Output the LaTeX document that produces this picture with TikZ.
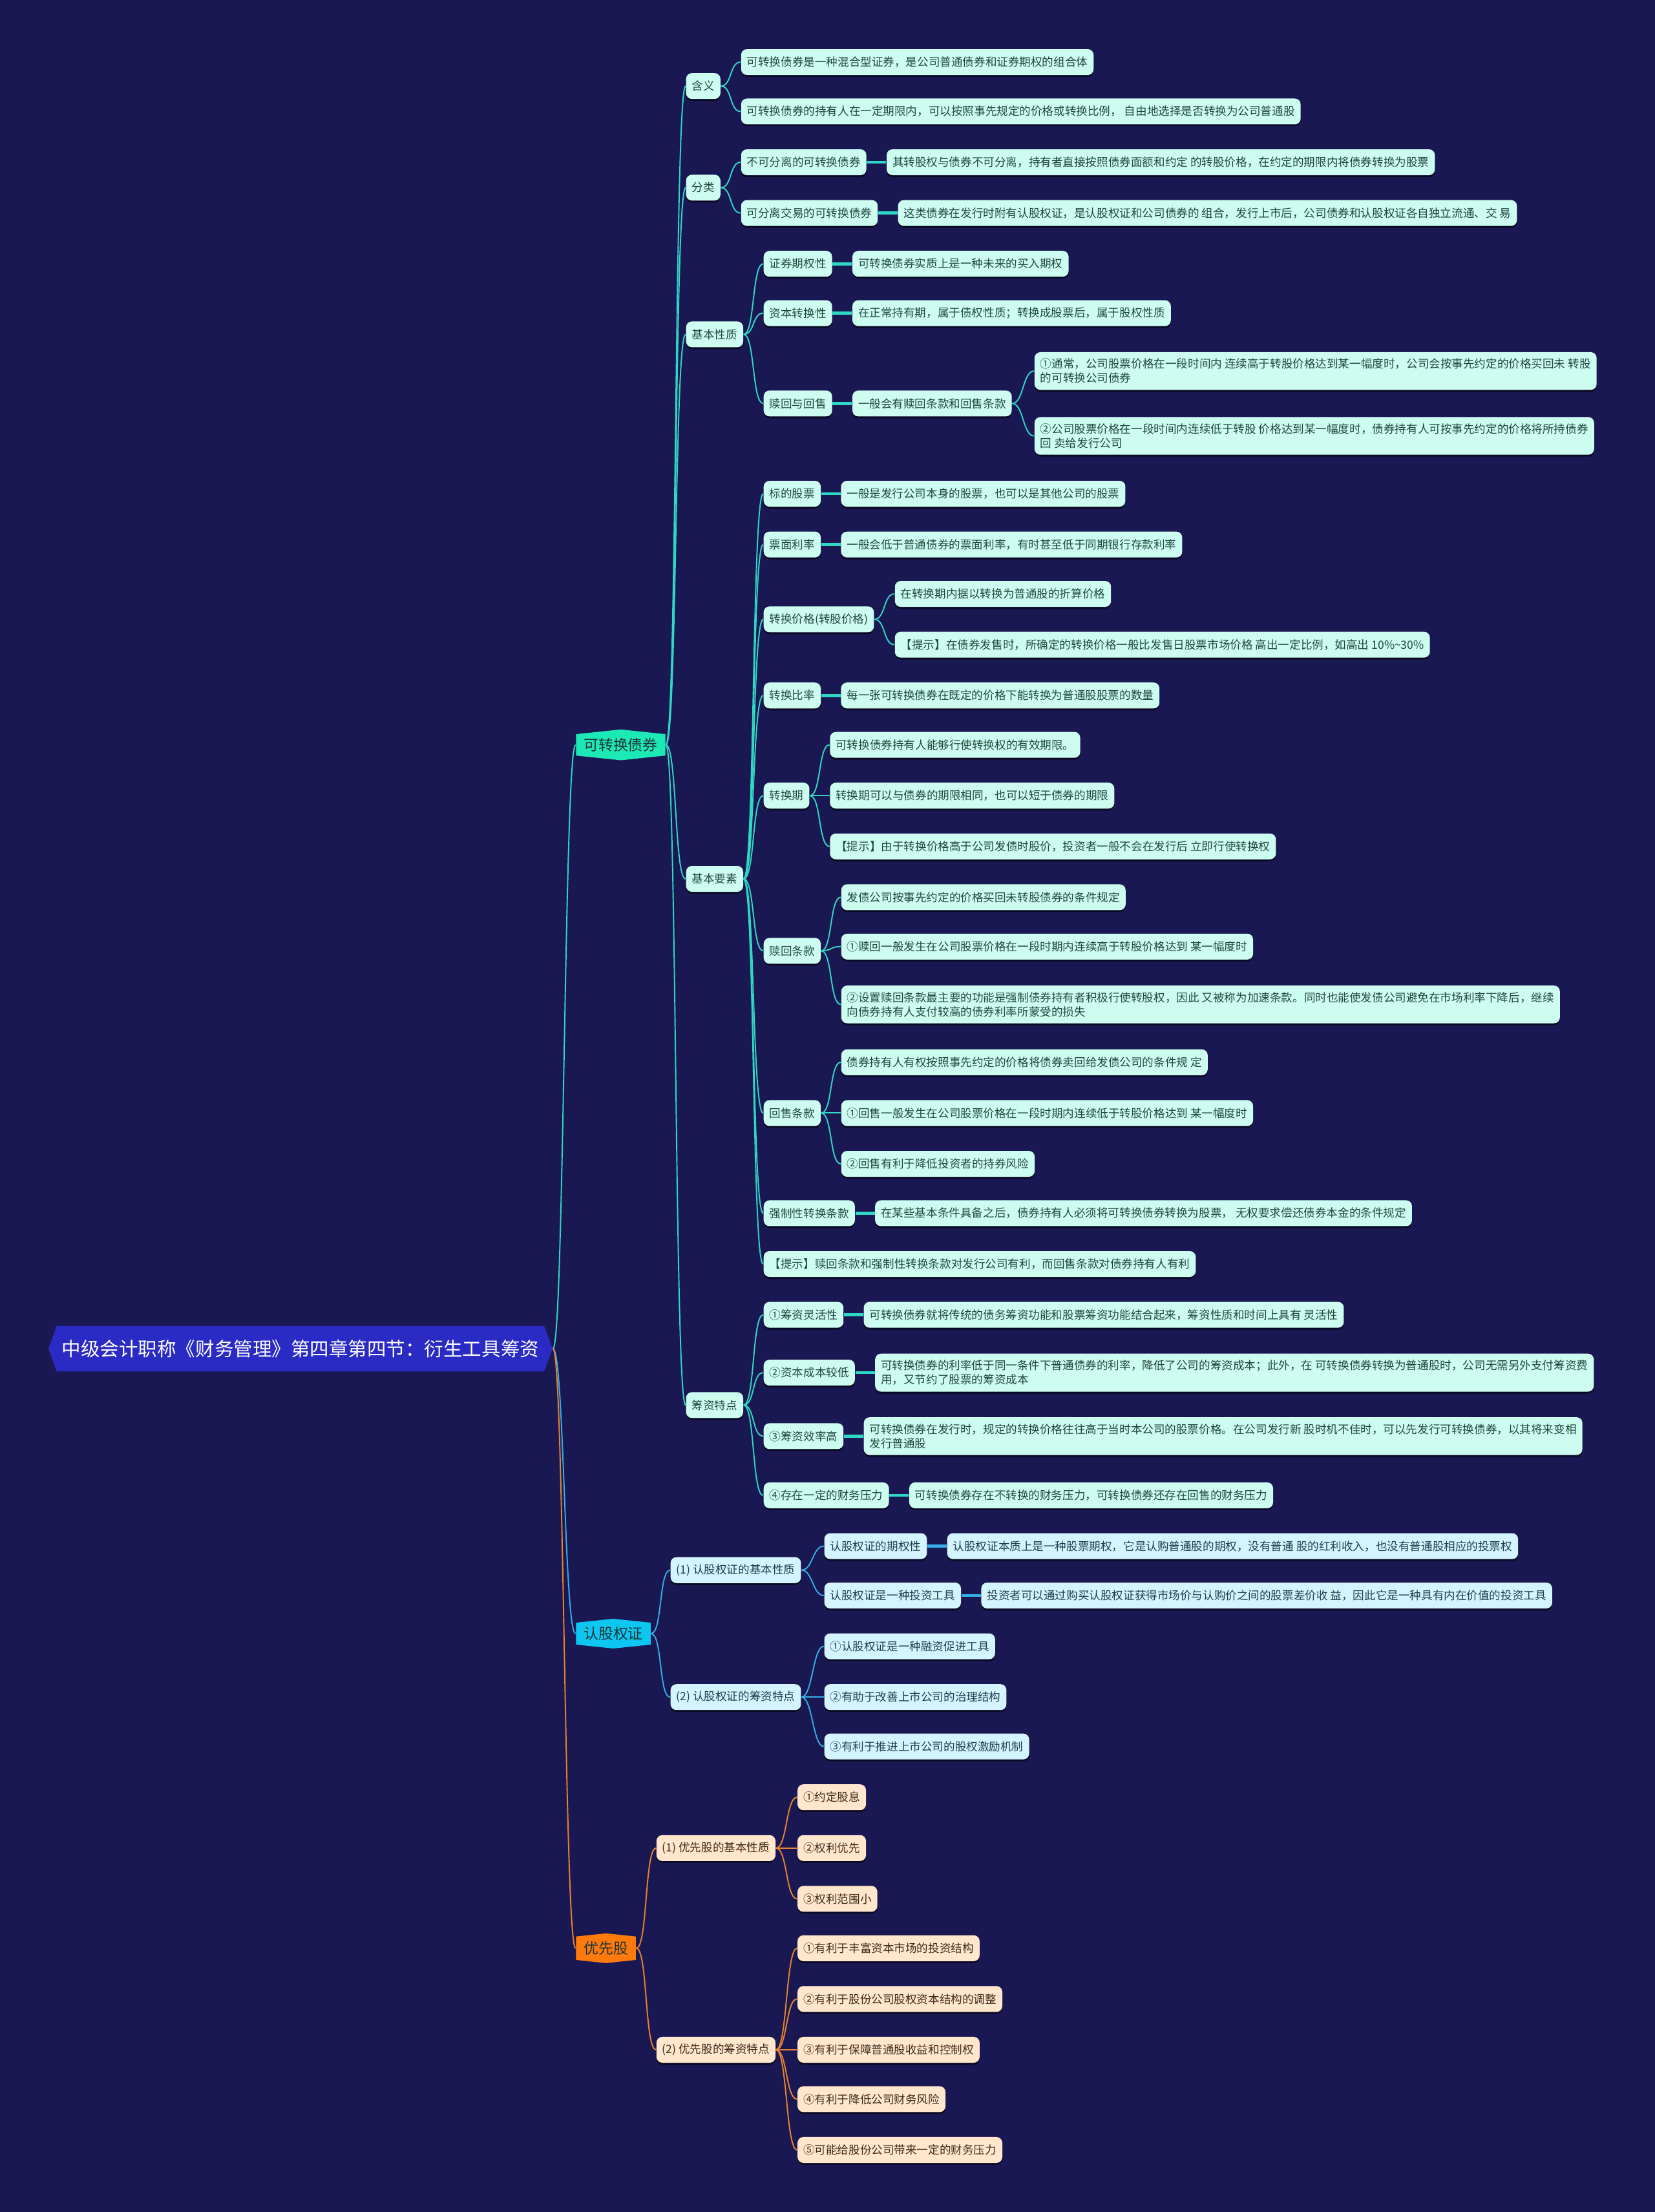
\documentclass[tikz,border=0pt]{standalone}
\usepackage{fontspec}
\newfontfamily\cjk{Noto Sans CJK SC}
\usepackage{tikz}
\usetikzlibrary{shapes, shapes.symbols, positioning, shadows}

\definecolor{bgnavy}{HTML}{1A1852}
\definecolor{rootblue}{HTML}{2A2AC4}
\definecolor{tealfill}{HTML}{1DE9B6}
\definecolor{tealline}{HTML}{2FD8C4}
\definecolor{mint}{HTML}{CDFDF1}
\definecolor{minttext}{HTML}{22463F}
\definecolor{cyanfill}{HTML}{0DC7F0}
\definecolor{cyanline}{HTML}{36AEE6}
\definecolor{icefill}{HTML}{D4F5FF}
\definecolor{icetext}{HTML}{203F4C}
\definecolor{orangefill}{HTML}{FF7A0C}
\definecolor{orangeline}{HTML}{E9822E}
\definecolor{peach}{HTML}{FFE6CC}
\definecolor{peachtext}{HTML}{3D2B1C}
\definecolor{topictext}{HTML}{1B3438}

\tikzset{
  rootnode/.style={signal, signal to=west and east, signal pointer angle=140,
    fill=rootblue, text=white, font=\cjk\fontsize{8.4}{10}\selectfont,
    minimum height=7mm, inner xsep=0.8mm},
  topic/.style={signal, signal to=north and south, signal pointer angle=168,
    fill=#1, text=topictext, font=\cjk\fontsize{6.5}{8}\selectfont,
    minimum height=4.6mm, inner xsep=1.2mm, inner ysep=0.6mm, anchor=west},
  box/.style={rounded corners=0.9mm, minimum height=4mm, inner xsep=0.9mm,
    inner ysep=1mm, align=left, anchor=west,
    font=\cjk\fontsize{5}{6.25}\selectfont,
    drop shadow={shadow xshift=0mm, shadow yshift=-0.3mm, fill=black, opacity=0.55}},
  kbox/.style={box, fill=mint, text=minttext},
  rbox/.style={box, fill=icefill, text=icetext},
  ybox/.style={box, fill=peach, text=peachtext},
  link/.style={draw=#1, line width=0.55pt},
  joint/.style={draw=#1, line width=1.3pt},
  curvy/.style={to path={.. controls +(#1,0) and +(-#1,0) .. (\tikztotarget)}},
  curvy/.default=8
}

\begin{document}
\begin{tikzpicture}[x=0.021824cm, y=-0.021824cm]
% 背景
\fill[bgnavy] (0,0) rectangle (1173,1568);

% 根节点
\node[rootnode, anchor=west] (root) at (34,956) {中级会计职称《财务管理》第四章第四节：衍生工具筹资};

% 一级节点
\node[topic=tealfill] (kz) at (408,528) {可转换债券};
\node[topic=cyanfill] (rg) at (408,1158) {认股权证};
\node[topic=orangefill] (yx) at (408,1381) {优先股};

% 含义
\node[kbox] (hy) at (486,61) {含义};
\node[kbox] (hy1) at (525,44) {可转换债券是一种混合型证券，是公司普通债券和证券期权的组合体};
\node[kbox] (hy2) at (525,79) {可转换债券的持有人在一定期限内，可以按照事先规定的价格或转换比例， 自由地选择是否转换为公司普通股};

% 分类
\node[kbox] (fl) at (486,133) {分类};
\node[kbox] (fl1) at (525,115) {不可分离的可转换债券};
\node[kbox, right=3mm of fl1] (fl1a) {其转股权与债券不可分离，持有者直接按照债券面额和约定 的转股价格，在约定的期限内将债券转换为股票};
\node[kbox] (fl2) at (525,151) {可分离交易的可转换债券};
\node[kbox, right=3mm of fl2] (fl2a) {这类债券在发行时附有认股权证，是认股权证和公司债券的 组合，发行上市后，公司债券和认股权证各自独立流通、交 易};

% 基本性质
\node[kbox] (xz) at (486,237) {基本性质};
\node[kbox] (xz1) at (541,187) {证券期权性};
\node[kbox, right=3mm of xz1] (xz1a) {可转换债券实质上是一种未来的买入期权};
\node[kbox] (xz2) at (541,222) {资本转换性};
\node[kbox, right=3mm of xz2] (xz2a) {在正常持有期，属于债权性质；转换成股票后，属于股权性质};
\node[kbox] (xz3) at (541,286) {赎回与回售};
\node[kbox, right=3mm of xz3] (xz3a) {一般会有赎回条款和回售条款};
\node[kbox] (xz3b) at (733,263) {①通常，公司股票价格在一段时间内 连续高于转股价格达到某一幅度时，公司会按事先约定的价格买回未 转股\\的可转换公司债券};
\node[kbox] (xz3c) at (733,309) {②公司股票价格在一段时间内连续低于转股 价格达到某一幅度时，债券持有人可按事先约定的价格将所持债券\\回 卖给发行公司};

% 基本要素
\node[kbox] (ys) at (486,623) {基本要素};
\node[kbox] (ys1) at (541,350) {标的股票};
\node[kbox, right=3mm of ys1] (ys1a) {一般是发行公司本身的股票，也可以是其他公司的股票};
\node[kbox] (ys2) at (541,386) {票面利率};
\node[kbox, right=3mm of ys2] (ys2a) {一般会低于普通债券的票面利率，有时甚至低于同期银行存款利率};
\node[kbox] (ys3) at (541,439) {转换价格(转股价格)};
\node[kbox] (ys3a) at (634,421) {在转换期内据以转换为普通股的折算价格};
\node[kbox] (ys3b) at (634,457) {【提示】在债券发售时，所确定的转换价格一般比发售日股票市场价格 高出一定比例，如高出 10\%\textasciitilde 30\%};
\node[kbox] (ys4) at (541,493) {转换比率};
\node[kbox, right=3mm of ys4] (ys4a) {每一张可转换债券在既定的价格下能转换为普通股股票的数量};
\node[kbox] (ys5) at (541,564) {转换期};
\node[kbox] (ys5a) at (588,528) {可转换债券持有人能够行使转换权的有效期限。};
\node[kbox] (ys5b) at (588,564) {转换期可以与债券的期限相同，也可以短于债券的期限};
\node[kbox] (ys5c) at (588,600) {【提示】由于转换价格高于公司发债时股价，投资者一般不会在发行后 立即行使转换权};
\node[kbox] (ys6) at (541,674) {赎回条款};
\node[kbox] (ys6a) at (596,636) {发债公司按事先约定的价格买回未转股债券的条件规定};
\node[kbox] (ys6b) at (596,671) {①赎回一般发生在公司股票价格在一段时期内连续高于转股价格达到 某一幅度时};
\node[kbox] (ys6c) at (596,712) {②设置赎回条款最主要的功能是强制债券持有者积极行使转股权，因此 又被称为加速条款。同时也能使发债公司避免在市场利率下降后，继续\\向债券持有人支付较高的债券利率所蒙受的损失};
\node[kbox] (ys7) at (541,789) {回售条款};
\node[kbox] (ys7a) at (596,753) {债券持有人有权按照事先约定的价格将债券卖回给发债公司的条件规 定};
\node[kbox] (ys7b) at (596,789) {①回售一般发生在公司股票价格在一段时期内连续低于转股价格达到 某一幅度时};
\node[kbox] (ys7c) at (596,825) {②回售有利于降低投资者的持券风险};
\node[kbox] (ys8) at (541,860) {强制性转换条款};
\node[kbox, right=3mm of ys8] (ys8a) {在某些基本条件具备之后，债券持有人必须将可转换债券转换为股票， 无权要求偿还债券本金的条件规定};
\node[kbox] (ys9) at (541,896) {【提示】赎回条款和强制性转换条款对发行公司有利，而回售条款对债券持有人有利};

% 筹资特点
\node[kbox] (cz) at (486,996) {筹资特点};
\node[kbox] (cz1) at (541,932) {①筹资灵活性};
\node[kbox, right=3mm of cz1] (cz1a) {可转换债券就将传统的债务筹资功能和股票筹资功能结合起来，筹资性质和时间上具有 灵活性};
\node[kbox] (cz2) at (541,973) {②资本成本较低};
\node[kbox, right=3mm of cz2] (cz2a) {可转换债券的利率低于同一条件下普通债券的利率，降低了公司的筹资成本；此外，在 可转换债券转换为普通股时，公司无需另外支付筹资费\\用，又节约了股票的筹资成本};
\node[kbox] (cz3) at (541,1018) {③筹资效率高};
\node[kbox, right=3mm of cz3] (cz3a) {可转换债券在发行时，规定的转换价格往往高于当时本公司的股票价格。在公司发行新 股时机不佳时，可以先发行可转换债券，以其将来变相\\发行普通股};
\node[kbox] (cz4) at (541,1060) {④存在一定的财务压力};
\node[kbox, right=3mm of cz4] (cz4a) {可转换债券存在不转换的财务压力，可转换债券还存在回售的财务压力};

% 认股权证
\node[rbox] (rg1) at (475,1113) {(1) 认股权证的基本性质};
\node[rbox] (rg1a) at (584,1096) {认股权证的期权性};
\node[rbox, right=3mm of rg1a] (rg1aa) {认股权证本质上是一种股票期权，它是认购普通股的期权，没有普通 股的红利收入，也没有普通股相应的投票权};
\node[rbox] (rg1b) at (584,1131) {认股权证是一种投资工具};
\node[rbox, right=3mm of rg1b] (rg1ba) {投资者可以通过购买认股权证获得市场价与认购价之间的股票差价收 益，因此它是一种具有内在价值的投资工具};
\node[rbox] (rg2) at (475,1203) {(2) 认股权证的筹资特点};
\node[rbox] (rg2a) at (584,1167) {①认股权证是一种融资促进工具};
\node[rbox] (rg2b) at (584,1203) {②有助于改善上市公司的治理结构};
\node[rbox] (rg2c) at (584,1238) {③有利于推进上市公司的股权激励机制};

% 优先股
\node[ybox] (yx1) at (465,1310) {(1) 优先股的基本性质};
\node[ybox] (yx1a) at (565,1274) {①约定股息};
\node[ybox] (yx1b) at (565,1310) {②权利优先};
\node[ybox] (yx1c) at (565,1346) {③权利范围小};
\node[ybox] (yx2) at (465,1453) {(2) 优先股的筹资特点};
\node[ybox] (yx2a) at (565,1381) {①有利于丰富资本市场的投资结构};
\node[ybox] (yx2b) at (565,1417) {②有利于股份公司股权资本结构的调整};
\node[ybox] (yx2c) at (565,1453) {③有利于保障普通股收益和控制权};
\node[ybox] (yx2d) at (565,1488) {④有利于降低公司财务风险};
\node[ybox] (yx2e) at (565,1524) {⑤可能给股份公司带来一定的财务压力};

% 连线
\foreach \t/\c in {kz/tealline, rg/cyanline, yx/orangeline}
  \draw[link=\c] (root.east) to[curvy] (\t.west);
\foreach \t in {hy,fl,xz,ys,cz}
  \draw[link=tealline] (kz.east) to[curvy] (\t.west);
\foreach \p/\t in {hy/hy1, hy/hy2, fl/fl1, fl/fl2, xz/xz1, xz/xz2, xz/xz3,
    xz3a/xz3b, xz3a/xz3c, ys/ys1, ys/ys2, ys/ys3, ys/ys4, ys/ys5, ys/ys6,
    ys/ys7, ys/ys8, ys/ys9, ys3/ys3a, ys3/ys3b, ys5/ys5a, ys5/ys5b, ys5/ys5c,
    ys6/ys6a, ys6/ys6b, ys6/ys6c, ys7/ys7a, ys7/ys7b, ys7/ys7c,
    cz/cz1, cz/cz2, cz/cz3, cz/cz4}
  \draw[link=tealline] (\p.east) to[curvy] (\t.west);
\foreach \a/\b in {fl1/fl1a, fl2/fl2a, xz1/xz1a, xz2/xz2a, xz3/xz3a, ys1/ys1a,
    ys2/ys2a, ys4/ys4a, ys8/ys8a, cz1/cz1a, cz2/cz2a, cz3/cz3a, cz4/cz4a}
  \draw[joint=tealline] (\a.east) -- (\b.west);

\foreach \p/\t in {rg/rg1, rg/rg2, rg1/rg1a, rg1/rg1b, rg2/rg2a, rg2/rg2b, rg2/rg2c}
  \draw[link=cyanline] (\p.east) to[curvy] (\t.west);
\foreach \a/\b in {rg1a/rg1aa, rg1b/rg1ba}
  \draw[joint=cyanline] (\a.east) -- (\b.west);

\foreach \p/\t in {yx/yx1, yx/yx2, yx1/yx1a, yx1/yx1b, yx1/yx1c,
    yx2/yx2a, yx2/yx2b, yx2/yx2c, yx2/yx2d, yx2/yx2e}
  \draw[link=orangeline] (\p.east) to[curvy] (\t.west);
\end{tikzpicture}
\end{document}
